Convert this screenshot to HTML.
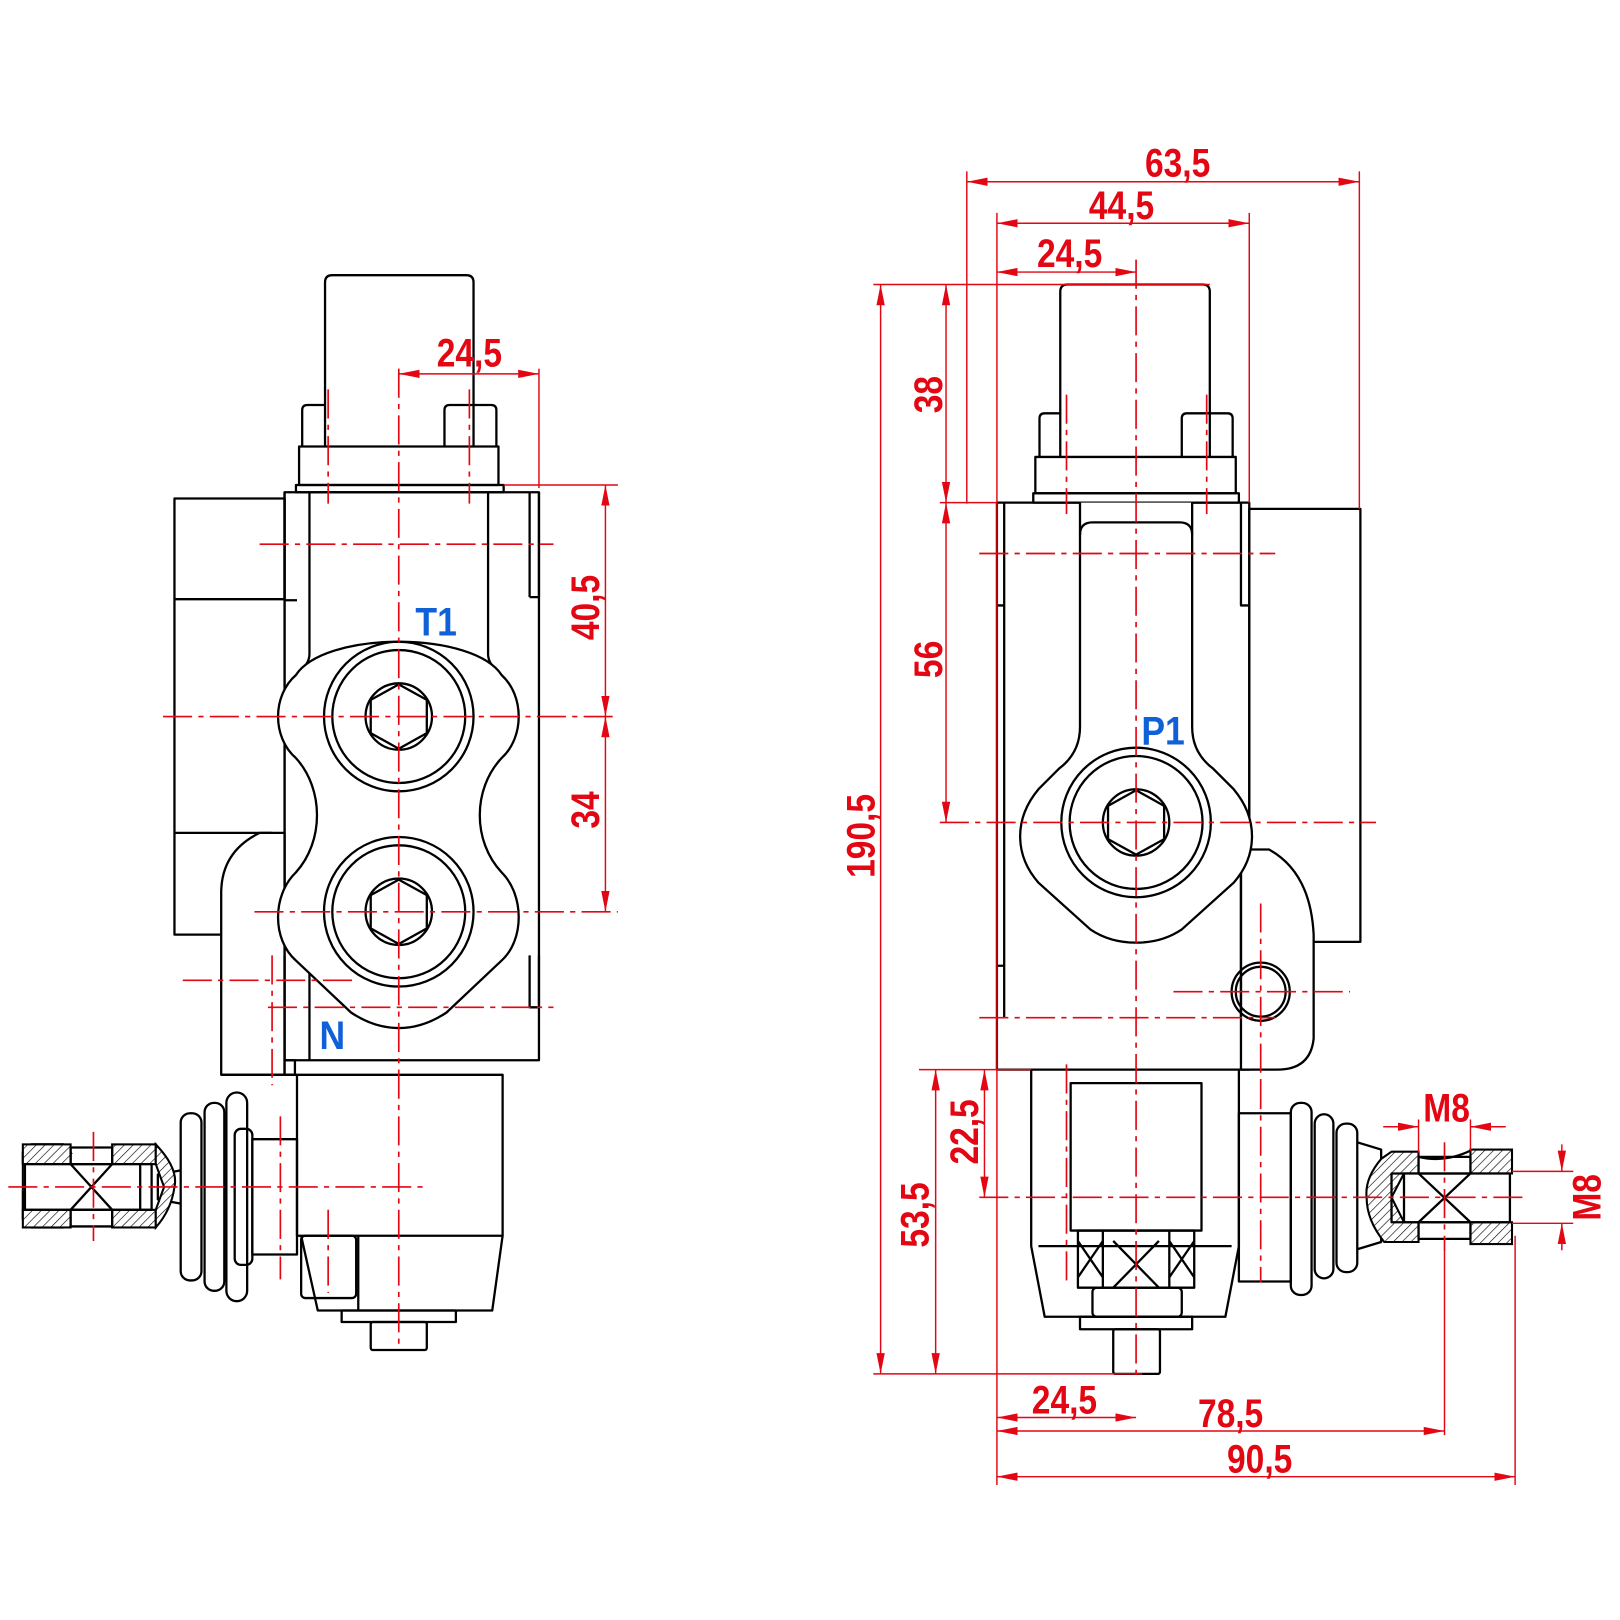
<!DOCTYPE html>
<html><head><meta charset="utf-8"><style>
html,body{margin:0;padding:0;background:#fff}
svg{display:block}
.k{fill:none;stroke:#000;stroke-width:2.2;stroke-linejoin:round}
.w{fill:#fff;stroke:#000;stroke-width:2.2;stroke-linejoin:round}
.c{stroke:#e30613;stroke-width:1.6;fill:none;stroke-dasharray:28 6 5 6}
.d{stroke:#e30613;stroke-width:1.4;fill:none}
.t{fill:#e30613;font-family:"Liberation Sans",sans-serif;font-weight:bold;font-size:38px}
.b{fill:#1060d8;font-family:"Liberation Sans",sans-serif;font-weight:bold;font-size:38px}
.h{fill:url(#hatch);stroke:#000;stroke-width:2}
</style></head><body>
<svg width="1620" height="1620" viewBox="0 0 1560 1560" xmlns="http://www.w3.org/2000/svg">
<defs>
<marker id="a" viewBox="0 0 20 10" refX="20" refY="5" markerWidth="20" markerHeight="10" markerUnits="userSpaceOnUse" orient="auto-start-reverse"><path d="M0,1 L20,5 L0,9z" fill="#e30613"/></marker>
<pattern id="hatch" width="6" height="6" patternUnits="userSpaceOnUse" patternTransform="rotate(45)"><rect width="6" height="6" fill="#fff"/><line x1="0" y1="0" x2="0" y2="6" stroke="#000" stroke-width="1.2"/></pattern>
</defs>

<!-- ===== LEFT VIEW ===== -->
<path class="k" d="M313,430 V272 Q313,265 320,265 H449 Q456,265 456,272 V430"/>
<path class="k" d="M291,430 V395 Q291,390 296,390 H313 M428,430 V395 Q428,390 433,390 H473 Q478,390 478,395 V430"/>
<rect class="k" x="288" y="430" width="192" height="37"/>
<rect class="k" x="285" y="467" width="200" height="7"/>
<rect class="k" x="274" y="474" width="245" height="547"/>
<rect class="w" x="168" y="480" width="106" height="420"/>
<line class="k" x1="168" y1="577" x2="274" y2="577"/>
<line class="k" x1="168" y1="802" x2="262" y2="802"/>
<path class="w" d="M213,1035 V860 Q213,820 250,802 H274 V1035 Z"/>
<rect class="k" x="274" y="1021" width="10" height="14"/>
<line class="k" x1="213" y1="1035" x2="286" y2="1035"/>
<line class="k" x1="274" y1="480" x2="274" y2="578"/>
<path class="k" d="M298,474 V630 Q298,640 285,650 M470,474 V630 Q470,640 483,650 M274,474 V578 H286 M519,474 V575 H510 M510,575 V474"/>
<path class="k" d="M298,920 V1021 M274,920 V1021 M519,920 V970 H510 V920"/>
<!-- lobed port outline -->
<path class="w" d="M384,618 C430,618 470,630 483,650 C505,670 505,710 483,730 C455,760 455,810 483,840 C505,862 505,905 483,925 L430,975 C400,995 368,995 338,975 L285,925 C262,905 262,862 285,840 C312,810 312,760 285,730 C262,710 262,670 285,650 C298,630 338,618 384,618 Z"/>
<circle class="k" cx="384" cy="690" r="72"/><circle class="k" cx="384" cy="690" r="64"/>
<circle class="k" cx="384" cy="690" r="32"/><path class="k" d="M384,659 L411,674 V706 L384,721 L357,706 V674Z"/>
<circle class="k" cx="384" cy="878" r="72"/><circle class="k" cx="384" cy="878" r="64"/>
<circle class="k" cx="384" cy="878" r="32"/><path class="k" d="M384,847 L411,862 V894 L384,909 L357,894 V862Z"/>
<!-- bonnet -->
<rect class="k" x="286" y="1035" width="198" height="155"/>
<path class="k" d="M290,1190 L306,1262 H474 L484,1190"/>
<rect class="k" x="290" y="1190" width="53" height="60" rx="4"/>
<line class="k" x1="345" y1="1190" x2="345" y2="1262"/>
<rect class="k" x="329" y="1262" width="110" height="11"/>
<rect class="k" x="357" y="1273" width="54" height="27" rx="2"/>
<!-- boot left -->
<rect class="k" x="243" y="1097" width="43" height="111"/>
<rect class="k" x="226" y="1087" width="17" height="131" rx="6"/>
<rect class="k" x="218" y="1052" width="20" height="201" rx="10"/>
<rect class="k" x="197" y="1062" width="19" height="181" rx="9"/>
<rect class="k" x="174" y="1072" width="20" height="161" rx="9"/>
<path class="k" d="M174,1127 L152,1131 V1155 L174,1159"/>
<!-- fitting left -->
<path class="h" d="M22,1146 V1110 L30,1102 H61 L68,1110 H22 Z"/>
<path class="h" d="M22,1110 H68 V1120 H22 Z"/>
<path class="k" d="M22,1146 V1174 L30,1182 H61 L68,1176 M22,1110 L30,1102 H61 L68,1110"/>
<rect class="h" x="22" y="1102" width="46" height="19"/>
<rect class="h" x="22" y="1165" width="46" height="17"/>
<rect class="h" x="108" y="1102" width="42" height="19"/>
<rect class="h" x="108" y="1165" width="42" height="17"/>
<path class="h" d="M150,1102 Q172,1125 168,1143 Q165,1165 150,1182 V1165 L158,1143 L150,1121 Z"/>
<rect class="k" x="68" y="1105" width="40" height="16"/>
<rect class="k" x="68" y="1165" width="40" height="16"/>
<rect class="k" x="24" y="1121" width="122" height="44"/>
<line class="k" x1="135" y1="1121" x2="135" y2="1165"/>
<path class="k" d="M68,1121 L108,1165 M108,1121 L68,1165"/>
<!-- left centerlines -->
<line class="c" x1="384" y1="355" x2="384" y2="1300"/>
<line class="c" x1="316" y1="375" x2="316" y2="485"/>
<line class="c" x1="452" y1="375" x2="452" y2="485"/>
<line class="c" x1="157" y1="690" x2="595" y2="690"/>
<line class="c" x1="245" y1="878" x2="595" y2="878"/>
<line class="c" x1="250" y1="524" x2="533" y2="524"/>
<line class="c" x1="258" y1="970" x2="533" y2="970"/>
<line class="c" x1="176" y1="944" x2="345" y2="944"/>
<line class="c" x1="8" y1="1143" x2="410" y2="1143"/>
<line class="c" x1="90" y1="1090" x2="90" y2="1195"/>
<line class="c" x1="270" y1="1075" x2="270" y2="1232"/>
<line class="c" x1="262" y1="920" x2="262" y2="1045"/>
<line class="c" x1="316" y1="1165" x2="316" y2="1245"/>
<!-- left dims -->
<line class="d" x1="519" y1="355" x2="519" y2="470"/>
<line class="d" x1="384" y1="360" x2="519" y2="360" marker-start="url(#a)" marker-end="url(#a)"/>
<text class="t" x="452" y="353" text-anchor="middle" transform="translate(452 0) scale(.85 1) translate(-452 0)">24,5</text>
<line class="d" x1="485" y1="467" x2="595" y2="467"/>
<line class="d" x1="583" y1="467" x2="583" y2="690" marker-start="url(#a)" marker-end="url(#a)"/>
<line class="d" x1="583" y1="690" x2="583" y2="878" marker-start="url(#a)" marker-end="url(#a)"/>
<text class="t" transform="translate(577 585) rotate(-90) scale(.85 1)" text-anchor="middle">40,5</text>
<text class="t" transform="translate(577 780) rotate(-90) scale(.85 1)" text-anchor="middle">34</text>
<text class="b" x="420" y="612" text-anchor="middle" transform="translate(420 0) scale(.9 1) translate(-420 0)">T1</text>
<text class="b" x="320" y="1010" text-anchor="middle" transform="translate(320 0) scale(.9 1) translate(-320 0)">N</text>

<!-- ===== RIGHT VIEW ===== -->
<path class="k" d="M1021,440 V281 Q1021,274 1028,274 H1158 Q1165,274 1165,281 V440"/>
<path class="k" d="M1001,440 V403 Q1001,398 1006,398 H1021 M1138,440 V403 Q1138,398 1143,398 H1182 Q1187,398 1187,403 V440"/>
<rect class="k" x="997" y="440" width="193" height="35"/>
<rect class="k" x="995" y="475" width="198" height="9"/>
<rect class="w" x="1203" y="490" width="107" height="417"/>
<rect class="k" x="960" y="484" width="243" height="546"/>
<path class="k" d="M967,484 V583 H960 M1195,484 V583 H1203 M967,583 V930 H960 M967,930 V980"/>
<!-- right lower part -->
<path class="w" d="M1195,818 H1222 Q1262,840 1265,900 V1000 Q1262,1030 1230,1030 H1195 Z"/>
<line class="k" x1="1195" y1="980" x2="1195" y2="818"/>
<!-- channel + boss -->
<path class="w" d="M1040,484 V700 Q1040,725 1020,740 L1000,760 C975,790 978,825 1000,850 L1050,895 C1075,912 1113,912 1138,895 L1188,850 C1210,825 1213,790 1188,760 L1168,740 Q1148,725 1148,700 V484"/>
<path class="k" d="M1040,515 Q1040,503 1052,503 H1136 Q1148,503 1148,515"/>
<circle class="k" cx="1094" cy="792" r="72"/><circle class="k" cx="1094" cy="792" r="64"/>
<circle class="k" cx="1094" cy="792" r="32"/><path class="k" d="M1094,761 L1121,776 V808 L1094,823 L1067,808 V776Z"/>
<circle class="k" cx="1214" cy="955" r="28"/><circle class="k" cx="1214" cy="955" r="24"/>
<!-- bottom -->
<path class="k" d="M993,1030 V1200 L1006,1268 H1180 L1193,1200 V1030"/>
<line class="k" x1="1000" y1="1200" x2="1186" y2="1200"/>
<rect class="k" x="1031" y="1043" width="126" height="142"/>
<rect class="k" x="1038" y="1185" width="112" height="55"/>
<path class="k" d="M1062,1185 V1240 M1126,1185 V1240 M1038,1195 L1062,1230 M1062,1195 L1038,1230 M1126,1195 L1150,1230 M1150,1195 L1126,1230 M1072,1195 L1116,1240 M1116,1195 L1072,1240"/>
<rect class="k" x="1052" y="1240" width="86" height="28" rx="4"/>
<rect class="k" x="1040" y="1268" width="108" height="12"/>
<rect class="k" x="1072" y="1280" width="45" height="43" rx="2"/>
<!-- boot right -->
<rect class="k" x="1193" y="1072" width="50" height="162"/>
<rect class="k" x="1243" y="1062" width="20" height="185" rx="9"/>
<rect class="k" x="1266" y="1073" width="18" height="158" rx="9"/>
<rect class="k" x="1287" y="1082" width="20" height="143" rx="9"/>
<path class="k" d="M1307,1100 L1330,1107 V1196 L1307,1203"/>
<!-- fitting right -->
<path class="h" d="M1330,1116 Q1314,1135 1316,1153 Q1316,1175 1333,1196 H1366 V1177 H1352 L1340,1153 L1352,1130 H1366 V1109 H1340 Z"/>
<rect class="h" x="1416" y="1107" width="40" height="23"/>
<rect class="h" x="1416" y="1177" width="40" height="21"/>
<rect class="k" x="1366" y="1114" width="50" height="16"/>
<rect class="k" x="1366" y="1177" width="50" height="16"/>
<path class="k" d="M1366,1114 Q1391,1120 1416,1108"/>
<rect class="k" x="1340" y="1130" width="114" height="47"/>
<line class="k" x1="1352" y1="1130" x2="1352" y2="1177"/>
<path class="k" d="M1366,1130 L1416,1177 M1416,1130 L1366,1177"/>
<!-- right centerlines -->
<line class="c" x1="1094" y1="250" x2="1094" y2="1325"/>
<line class="c" x1="1027" y1="380" x2="1027" y2="495"/>
<line class="c" x1="1162" y1="380" x2="1162" y2="495"/>
<line class="c" x1="943" y1="533" x2="1228" y2="533"/>
<line class="c" x1="905" y1="792" x2="1325" y2="792"/>
<line class="c" x1="943" y1="980" x2="1228" y2="980"/>
<line class="c" x1="1130" y1="955" x2="1300" y2="955"/>
<line class="c" x1="1214" y1="870" x2="1214" y2="1040"/>
<line class="c" x1="943" y1="1153" x2="1470" y2="1153"/>
<line class="c" x1="1391" y1="1100" x2="1391" y2="1205"/>
<line class="c" x1="1027" y1="1025" x2="1027" y2="1235"/>
<line class="c" x1="1214" y1="1040" x2="1214" y2="1235"/>
<!-- right dims -->
<line class="d" x1="931" y1="165" x2="931" y2="485"/>
<line class="d" x1="1309" y1="165" x2="1309" y2="490"/>
<line class="d" x1="960" y1="205" x2="960" y2="1430"/>
<line class="d" x1="1203" y1="205" x2="1203" y2="484"/>
<line class="d" x1="931" y1="175" x2="1309" y2="175" marker-start="url(#a)" marker-end="url(#a)"/>
<line class="d" x1="960" y1="215" x2="1203" y2="215" marker-start="url(#a)" marker-end="url(#a)"/>
<line class="d" x1="960" y1="262" x2="1094" y2="262" marker-start="url(#a)" marker-end="url(#a)"/>
<text class="t" transform="translate(1134 170) scale(.85 1)" text-anchor="middle">63,5</text>
<text class="t" transform="translate(1080 211) scale(.85 1)" text-anchor="middle">44,5</text>
<text class="t" transform="translate(1030 257) scale(.85 1)" text-anchor="middle">24,5</text>
<line class="d" x1="841" y1="274" x2="1165" y2="274"/>
<line class="d" x1="905" y1="484" x2="960" y2="484"/>
<line class="d" x1="841" y1="1323" x2="1100" y2="1323"/>
<line class="d" x1="885" y1="1030" x2="993" y2="1030"/>
<line class="d" x1="848" y1="274" x2="848" y2="1323" marker-start="url(#a)" marker-end="url(#a)"/>
<line class="d" x1="911" y1="274" x2="911" y2="484" marker-start="url(#a)" marker-end="url(#a)"/>
<line class="d" x1="911" y1="484" x2="911" y2="792" marker-start="url(#a)" marker-end="url(#a)"/>
<line class="d" x1="901" y1="1030" x2="901" y2="1323" marker-start="url(#a)" marker-end="url(#a)"/>
<line class="d" x1="948" y1="1030" x2="948" y2="1153" marker-start="url(#a)" marker-end="url(#a)"/>
<text class="t" transform="translate(842 805) rotate(-90) scale(.85 1)" text-anchor="middle">190,5</text>
<text class="t" transform="translate(907 380) rotate(-90) scale(.85 1)" text-anchor="middle">38</text>
<text class="t" transform="translate(907 635) rotate(-90) scale(.85 1)" text-anchor="middle">56</text>
<text class="t" transform="translate(894 1170) rotate(-90) scale(.85 1)" text-anchor="middle">53,5</text>
<text class="t" transform="translate(942 1090) rotate(-90) scale(.85 1)" text-anchor="middle">22,5</text>
<line class="d" x1="1391" y1="1205" x2="1391" y2="1382"/>
<line class="d" x1="1459" y1="1190" x2="1459" y2="1430"/>
<line class="d" x1="960" y1="1365" x2="1094" y2="1365" marker-start="url(#a)" marker-end="url(#a)"/>
<line class="d" x1="960" y1="1378" x2="1391" y2="1378" marker-start="url(#a)" marker-end="url(#a)"/>
<line class="d" x1="960" y1="1422" x2="1459" y2="1422" marker-start="url(#a)" marker-end="url(#a)"/>
<text class="t" transform="translate(1025 1361) scale(.85 1)" text-anchor="middle">24,5</text>
<text class="t" transform="translate(1185 1374) scale(.85 1)" text-anchor="middle">78,5</text>
<text class="t" transform="translate(1213 1418) scale(.85 1)" text-anchor="middle">90,5</text>
<!-- M8 -->
<line class="d" x1="1366" y1="1078" x2="1366" y2="1110"/>
<line class="d" x1="1416" y1="1078" x2="1416" y2="1108"/>
<line class="d" x1="1332" y1="1085" x2="1366" y2="1085" marker-end="url(#a)"/>
<line class="d" x1="1450" y1="1085" x2="1416" y2="1085" marker-end="url(#a)"/>
<text class="t" transform="translate(1393 1080) scale(.85 1)" text-anchor="middle">M8</text>
<line class="d" x1="1456" y1="1128" x2="1515" y2="1128"/>
<line class="d" x1="1456" y1="1178" x2="1515" y2="1178"/>
<line class="d" x1="1504" y1="1102" x2="1504" y2="1128" marker-end="url(#a)"/>
<line class="d" x1="1504" y1="1204" x2="1504" y2="1178" marker-end="url(#a)"/>
<text class="t" transform="translate(1541 1153) rotate(-90) scale(.85 1)" text-anchor="middle">M8</text>
<text class="b" transform="translate(1120 717) scale(.9 1)" text-anchor="middle">P1</text>
</svg>
</body></html>
